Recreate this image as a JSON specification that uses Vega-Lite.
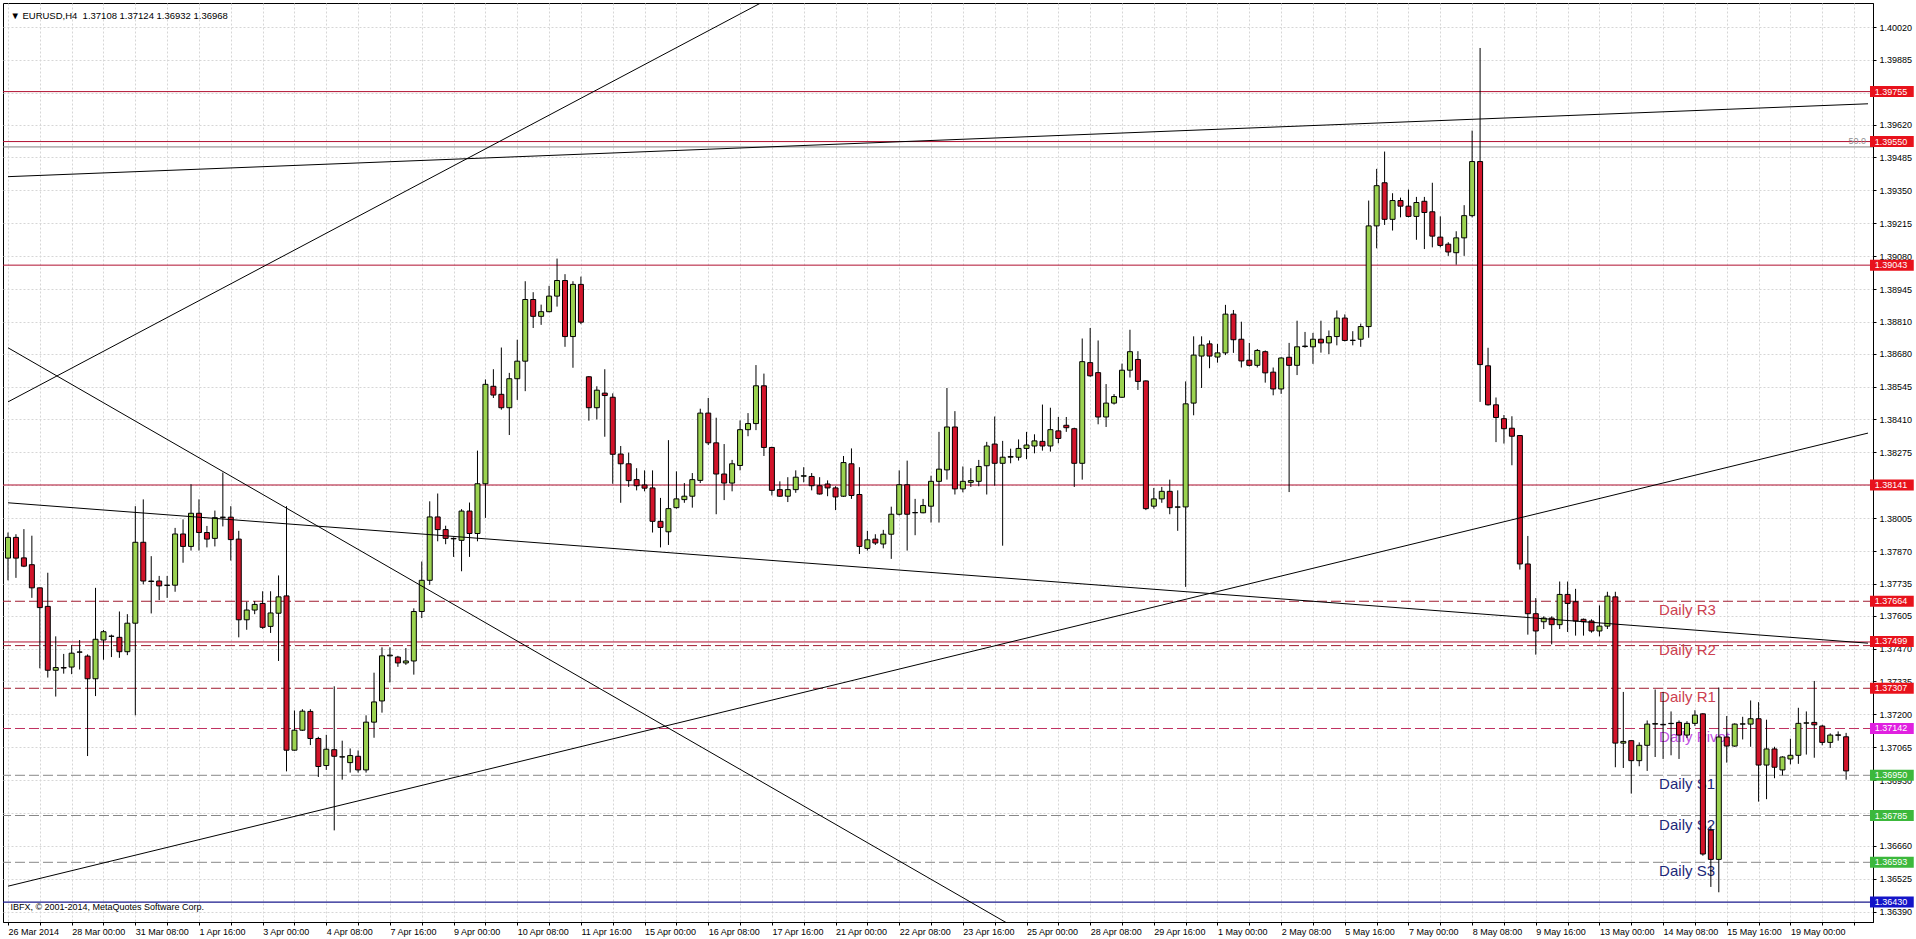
{
"$schema": "https://vega.github.io/schema/vega-lite/v6.json",
"width": 1870, "height": 919,
"autosize": {"type": "none"},
"padding": {"left": 3, "top": 3, "right": 43, "bottom": 17},
"background": "#ffffff",
"config": {
  "view": {"stroke": "#000000", "strokeWidth": 1},
  "font": "Liberation Sans",
  "axis": {"labelFont": "Liberation Sans", "labelFontSize": 9, "labelColor": "#000000", "domainColor": "#000000", "tickColor": "#000000", "gridColor": "#d6d6d6", "gridDash": [2, 2], "gridOpacity": 1, "title": null, "labelOverlap": false, "labelFlush": false, "labelBound": false, "tickCount": 100}
},
"datasets": {
"candles": [
{"i":0,"o":1.37841,"h":1.37946,"l":1.37750,"c":1.37926},
{"i":1,"o":1.37926,"h":1.37939,"l":1.37760,"c":1.37841},
{"i":2,"o":1.37842,"h":1.37960,"l":1.37804,"c":1.37808},
{"i":3,"o":1.37814,"h":1.37933,"l":1.37678,"c":1.37719},
{"i":4,"o":1.37719,"h":1.37720,"l":1.37389,"c":1.37638},
{"i":5,"o":1.37643,"h":1.37781,"l":1.37351,"c":1.37381},
{"i":6,"o":1.37381,"h":1.37520,"l":1.37273,"c":1.37392},
{"i":7,"o":1.37392,"h":1.37448,"l":1.37367,"c":1.37390},
{"i":8,"o":1.37394,"h":1.37484,"l":1.37365,"c":1.37451},
{"i":9,"o":1.37455,"h":1.37505,"l":1.37384,"c":1.37456},
{"i":10,"o":1.37439,"h":1.37446,"l":1.37029,"c":1.37346},
{"i":11,"o":1.37346,"h":1.37719,"l":1.37275,"c":1.37508},
{"i":12,"o":1.37505,"h":1.37546,"l":1.37424,"c":1.37539},
{"i":13,"o":1.37520,"h":1.37527,"l":1.37435,"c":1.37521},
{"i":14,"o":1.37516,"h":1.37622,"l":1.37432,"c":1.37457},
{"i":15,"o":1.37457,"h":1.37611,"l":1.37443,"c":1.37574},
{"i":16,"o":1.37574,"h":1.38054,"l":1.37196,"c":1.37906},
{"i":17,"o":1.37906,"h":1.38082,"l":1.37733,"c":1.37747},
{"i":18,"o":1.37747,"h":1.37849,"l":1.37614,"c":1.37745},
{"i":19,"o":1.37747,"h":1.37768,"l":1.37669,"c":1.37727},
{"i":20,"o":1.37729,"h":1.37768,"l":1.37678,"c":1.37730},
{"i":21,"o":1.37730,"h":1.37965,"l":1.37703,"c":1.37940},
{"i":22,"o":1.37940,"h":1.38000,"l":1.37822,"c":1.37889},
{"i":23,"o":1.37889,"h":1.38144,"l":1.37872,"c":1.38025},
{"i":24,"o":1.38025,"h":1.38082,"l":1.37872,"c":1.37946},
{"i":25,"o":1.37946,"h":1.37973,"l":1.37885,"c":1.37919},
{"i":26,"o":1.37922,"h":1.38036,"l":1.37889,"c":1.38007},
{"i":27,"o":1.38008,"h":1.38192,"l":1.37971,"c":1.38009},
{"i":28,"o":1.38009,"h":1.38054,"l":1.37831,"c":1.37917},
{"i":29,"o":1.37919,"h":1.37953,"l":1.37516,"c":1.37588},
{"i":30,"o":1.37588,"h":1.37662,"l":1.37547,"c":1.37628},
{"i":31,"o":1.37628,"h":1.37665,"l":1.37611,"c":1.37651},
{"i":32,"o":1.37655,"h":1.37705,"l":1.37551,"c":1.37557},
{"i":33,"o":1.37561,"h":1.37705,"l":1.37534,"c":1.37616},
{"i":34,"o":1.37615,"h":1.37770,"l":1.37419,"c":1.37682},
{"i":35,"o":1.37686,"h":1.38054,"l":1.36966,"c":1.37053},
{"i":36,"o":1.37053,"h":1.37216,"l":1.37051,"c":1.37135},
{"i":37,"o":1.37135,"h":1.37221,"l":1.37132,"c":1.37213},
{"i":38,"o":1.37212,"h":1.37221,"l":1.37074,"c":1.37101},
{"i":39,"o":1.37101,"h":1.37108,"l":1.36943,"c":1.36986},
{"i":40,"o":1.36990,"h":1.37116,"l":1.36972,"c":1.37057},
{"i":41,"o":1.37055,"h":1.37315,"l":1.36724,"c":1.37028},
{"i":42,"o":1.37025,"h":1.37092,"l":1.36932,"c":1.37026},
{"i":43,"o":1.37002,"h":1.37060,"l":1.36961,"c":1.37031},
{"i":44,"o":1.37028,"h":1.37052,"l":1.36961,"c":1.36972},
{"i":45,"o":1.36972,"h":1.37196,"l":1.36961,"c":1.37168},
{"i":46,"o":1.37168,"h":1.37371,"l":1.37104,"c":1.37251},
{"i":47,"o":1.37255,"h":1.37475,"l":1.37207,"c":1.37440},
{"i":48,"o":1.37440,"h":1.37475,"l":1.37331,"c":1.37443},
{"i":49,"o":1.37435,"h":1.37440,"l":1.37395,"c":1.37411},
{"i":50,"o":1.37411,"h":1.37472,"l":1.37403,"c":1.37419},
{"i":51,"o":1.37419,"h":1.37635,"l":1.37363,"c":1.37622},
{"i":52,"o":1.37622,"h":1.37827,"l":1.37595,"c":1.37750},
{"i":53,"o":1.37750,"h":1.38074,"l":1.37731,"c":1.38010},
{"i":54,"o":1.38010,"h":1.38106,"l":1.37910,"c":1.37958},
{"i":55,"o":1.37958,"h":1.37974,"l":1.37898,"c":1.37922},
{"i":56,"o":1.37922,"h":1.37926,"l":1.37846,"c":1.37920},
{"i":57,"o":1.37914,"h":1.38042,"l":1.37787,"c":1.38034},
{"i":58,"o":1.38034,"h":1.38069,"l":1.37846,"c":1.37942},
{"i":59,"o":1.37942,"h":1.38282,"l":1.37910,"c":1.38146},
{"i":60,"o":1.38146,"h":1.38574,"l":1.38006,"c":1.38554},
{"i":61,"o":1.38546,"h":1.38616,"l":1.38498,"c":1.38510},
{"i":62,"o":1.38513,"h":1.38705,"l":1.38450,"c":1.38458},
{"i":63,"o":1.38458,"h":1.38601,"l":1.38346,"c":1.38577},
{"i":64,"o":1.38577,"h":1.38737,"l":1.38490,"c":1.38649},
{"i":65,"o":1.38649,"h":1.38977,"l":1.38526,"c":1.38902},
{"i":66,"o":1.38902,"h":1.38932,"l":1.38785,"c":1.38833},
{"i":67,"o":1.38833,"h":1.38881,"l":1.38798,"c":1.38852},
{"i":68,"o":1.38852,"h":1.38958,"l":1.38850,"c":1.38916},
{"i":69,"o":1.38916,"h":1.39070,"l":1.38873,"c":1.38980},
{"i":70,"o":1.38980,"h":1.39006,"l":1.38708,"c":1.38750},
{"i":71,"o":1.38750,"h":1.38977,"l":1.38622,"c":1.38964},
{"i":72,"o":1.38964,"h":1.38996,"l":1.38801,"c":1.38809},
{"i":73,"o":1.38585,"h":1.38588,"l":1.38405,"c":1.38458},
{"i":74,"o":1.38458,"h":1.38546,"l":1.38410,"c":1.38530},
{"i":75,"o":1.38518,"h":1.38616,"l":1.38339,"c":1.38508},
{"i":76,"o":1.38501,"h":1.38517,"l":1.38146,"c":1.38267},
{"i":77,"o":1.38268,"h":1.38301,"l":1.38068,"c":1.38228},
{"i":78,"o":1.38228,"h":1.38274,"l":1.38133,"c":1.38159},
{"i":79,"o":1.38163,"h":1.38210,"l":1.38119,"c":1.38138},
{"i":80,"o":1.38141,"h":1.38201,"l":1.38115,"c":1.38128},
{"i":81,"o":1.38129,"h":1.38201,"l":1.37946,"c":1.37992},
{"i":82,"o":1.37992,"h":1.38088,"l":1.37885,"c":1.37967},
{"i":83,"o":1.37949,"h":1.38325,"l":1.37895,"c":1.38044},
{"i":84,"o":1.38048,"h":1.38197,"l":1.38044,"c":1.38084},
{"i":85,"o":1.38081,"h":1.38149,"l":1.38068,"c":1.38095},
{"i":86,"o":1.38095,"h":1.38190,"l":1.38048,"c":1.38163},
{"i":87,"o":1.38160,"h":1.38454,"l":1.38149,"c":1.38436},
{"i":88,"o":1.38436,"h":1.38498,"l":1.38305,"c":1.38314},
{"i":89,"o":1.38314,"h":1.38417,"l":1.38021,"c":1.38186},
{"i":90,"o":1.38186,"h":1.38309,"l":1.38079,"c":1.38149},
{"i":91,"o":1.38149,"h":1.38244,"l":1.38115,"c":1.38228},
{"i":92,"o":1.38221,"h":1.38406,"l":1.38201,"c":1.38368},
{"i":93,"o":1.38368,"h":1.38436,"l":1.38341,"c":1.38393},
{"i":94,"o":1.38393,"h":1.38633,"l":1.38366,"c":1.38548},
{"i":95,"o":1.38548,"h":1.38598,"l":1.38260,"c":1.38295},
{"i":96,"o":1.38295,"h":1.38298,"l":1.38098,"c":1.38119},
{"i":97,"o":1.38122,"h":1.38156,"l":1.38092,"c":1.38095},
{"i":98,"o":1.38095,"h":1.38173,"l":1.38071,"c":1.38122},
{"i":99,"o":1.38122,"h":1.38201,"l":1.38109,"c":1.38173},
{"i":100,"o":1.38177,"h":1.38214,"l":1.38152,"c":1.38179},
{"i":101,"o":1.38176,"h":1.38190,"l":1.38119,"c":1.38138},
{"i":102,"o":1.38138,"h":1.38173,"l":1.38102,"c":1.38104},
{"i":103,"o":1.38145,"h":1.38160,"l":1.38095,"c":1.38129},
{"i":104,"o":1.38129,"h":1.38136,"l":1.38038,"c":1.38092},
{"i":105,"o":1.38095,"h":1.38260,"l":1.38092,"c":1.38233},
{"i":106,"o":1.38228,"h":1.38291,"l":1.38084,"c":1.38098},
{"i":107,"o":1.38102,"h":1.38214,"l":1.37858,"c":1.37889},
{"i":108,"o":1.37881,"h":1.37953,"l":1.37872,"c":1.37916},
{"i":109,"o":1.37919,"h":1.37939,"l":1.37895,"c":1.37903},
{"i":110,"o":1.37899,"h":1.37957,"l":1.37881,"c":1.37939},
{"i":111,"o":1.37939,"h":1.38052,"l":1.37838,"c":1.38021},
{"i":112,"o":1.38021,"h":1.38201,"l":1.38016,"c":1.38142},
{"i":113,"o":1.38142,"h":1.38241,"l":1.37872,"c":1.38021},
{"i":114,"o":1.38027,"h":1.38084,"l":1.37935,"c":1.38028},
{"i":115,"o":1.38027,"h":1.38084,"l":1.38025,"c":1.38057},
{"i":116,"o":1.38054,"h":1.38179,"l":1.37987,"c":1.38156},
{"i":117,"o":1.38156,"h":1.38359,"l":1.37987,"c":1.38206},
{"i":118,"o":1.38203,"h":1.38539,"l":1.38163,"c":1.38379},
{"i":119,"o":1.38379,"h":1.38444,"l":1.38102,"c":1.38125},
{"i":120,"o":1.38125,"h":1.38217,"l":1.38111,"c":1.38156},
{"i":121,"o":1.38152,"h":1.38210,"l":1.38133,"c":1.38159},
{"i":122,"o":1.38156,"h":1.38244,"l":1.38136,"c":1.38217},
{"i":123,"o":1.38220,"h":1.38318,"l":1.38102,"c":1.38301},
{"i":124,"o":1.38309,"h":1.38422,"l":1.38138,"c":1.38230},
{"i":125,"o":1.38230,"h":1.38322,"l":1.37892,"c":1.38255},
{"i":126,"o":1.38255,"h":1.38290,"l":1.38230,"c":1.38258},
{"i":127,"o":1.38255,"h":1.38328,"l":1.38241,"c":1.38291},
{"i":128,"o":1.38291,"h":1.38359,"l":1.38247,"c":1.38305},
{"i":129,"o":1.38301,"h":1.38349,"l":1.38271,"c":1.38322},
{"i":130,"o":1.38320,"h":1.38471,"l":1.38282,"c":1.38301},
{"i":131,"o":1.38301,"h":1.38458,"l":1.38278,"c":1.38368},
{"i":132,"o":1.38363,"h":1.38420,"l":1.38312,"c":1.38332},
{"i":133,"o":1.38386,"h":1.38420,"l":1.38359,"c":1.38376},
{"i":134,"o":1.38372,"h":1.38376,"l":1.38133,"c":1.38230},
{"i":135,"o":1.38230,"h":1.38742,"l":1.38163,"c":1.38647},
{"i":136,"o":1.38643,"h":1.38785,"l":1.38585,"c":1.38589},
{"i":137,"o":1.38602,"h":1.38734,"l":1.38390,"c":1.38420},
{"i":138,"o":1.38420,"h":1.38555,"l":1.38379,"c":1.38477},
{"i":139,"o":1.38477,"h":1.38514,"l":1.38471,"c":1.38504},
{"i":140,"o":1.38501,"h":1.38639,"l":1.38498,"c":1.38612},
{"i":141,"o":1.38612,"h":1.38778,"l":1.38582,"c":1.38688},
{"i":142,"o":1.38656,"h":1.38690,"l":1.38531,"c":1.38566},
{"i":143,"o":1.38568,"h":1.38570,"l":1.38038,"c":1.38044},
{"i":144,"o":1.38054,"h":1.38129,"l":1.38044,"c":1.38084},
{"i":145,"o":1.38084,"h":1.38133,"l":1.38068,"c":1.38115},
{"i":146,"o":1.38115,"h":1.38163,"l":1.38021,"c":1.38048},
{"i":147,"o":1.38050,"h":1.38119,"l":1.37953,"c":1.38051},
{"i":148,"o":1.38051,"h":1.38566,"l":1.37723,"c":1.38474},
{"i":149,"o":1.38477,"h":1.38751,"l":1.38427,"c":1.38674},
{"i":150,"o":1.38670,"h":1.38751,"l":1.38539,"c":1.38715},
{"i":151,"o":1.38720,"h":1.38734,"l":1.38620,"c":1.38670},
{"i":152,"o":1.38666,"h":1.38720,"l":1.38643,"c":1.38683},
{"i":153,"o":1.38683,"h":1.38880,"l":1.38674,"c":1.38842},
{"i":154,"o":1.38842,"h":1.38859,"l":1.38683,"c":1.38737},
{"i":155,"o":1.38739,"h":1.38811,"l":1.38623,"c":1.38650},
{"i":156,"o":1.38653,"h":1.38724,"l":1.38627,"c":1.38632},
{"i":157,"o":1.38632,"h":1.38699,"l":1.38623,"c":1.38693},
{"i":158,"o":1.38688,"h":1.38693,"l":1.38561,"c":1.38601},
{"i":159,"o":1.38604,"h":1.38623,"l":1.38509,"c":1.38535},
{"i":160,"o":1.38535,"h":1.38665,"l":1.38515,"c":1.38662},
{"i":161,"o":1.38665,"h":1.38724,"l":1.38112,"c":1.38632},
{"i":162,"o":1.38632,"h":1.38815,"l":1.38592,"c":1.38708},
{"i":163,"o":1.38709,"h":1.38769,"l":1.38704,"c":1.38711},
{"i":164,"o":1.38708,"h":1.38765,"l":1.38638,"c":1.38739},
{"i":165,"o":1.38739,"h":1.38815,"l":1.38684,"c":1.38724},
{"i":166,"o":1.38724,"h":1.38775,"l":1.38678,"c":1.38750},
{"i":167,"o":1.38750,"h":1.38857,"l":1.38714,"c":1.38826},
{"i":168,"o":1.38826,"h":1.38841,"l":1.38730,"c":1.38734},
{"i":169,"o":1.38734,"h":1.38772,"l":1.38714,"c":1.38735},
{"i":170,"o":1.38739,"h":1.38803,"l":1.38708,"c":1.38791},
{"i":171,"o":1.38791,"h":1.39308,"l":1.38745,"c":1.39204},
{"i":172,"o":1.39204,"h":1.39438,"l":1.39112,"c":1.39369},
{"i":173,"o":1.39381,"h":1.39509,"l":1.39208,"c":1.39231},
{"i":174,"o":1.39231,"h":1.39338,"l":1.39185,"c":1.39308},
{"i":175,"o":1.39308,"h":1.39320,"l":1.39239,"c":1.39285},
{"i":176,"o":1.39285,"h":1.39353,"l":1.39239,"c":1.39243},
{"i":177,"o":1.39243,"h":1.39323,"l":1.39147,"c":1.39300},
{"i":178,"o":1.39305,"h":1.39323,"l":1.39109,"c":1.39259},
{"i":179,"o":1.39262,"h":1.39381,"l":1.39116,"c":1.39162},
{"i":180,"o":1.39158,"h":1.39243,"l":1.39116,"c":1.39124},
{"i":181,"o":1.39129,"h":1.39137,"l":1.39081,"c":1.39097},
{"i":182,"o":1.39094,"h":1.39182,"l":1.39045,"c":1.39155},
{"i":183,"o":1.39155,"h":1.39289,"l":1.39081,"c":1.39246},
{"i":184,"o":1.39246,"h":1.39595,"l":1.39239,"c":1.39468},
{"i":185,"o":1.39468,"h":1.39934,"l":1.38482,"c":1.38635},
{"i":186,"o":1.38630,"h":1.38704,"l":1.38467,"c":1.38470},
{"i":187,"o":1.38470,"h":1.38500,"l":1.38317,"c":1.38418},
{"i":188,"o":1.38413,"h":1.38428,"l":1.38311,"c":1.38372},
{"i":189,"o":1.38374,"h":1.38423,"l":1.38222,"c":1.38341},
{"i":190,"o":1.38344,"h":1.38345,"l":1.37794,"c":1.37817},
{"i":191,"o":1.37817,"h":1.37932,"l":1.37527,"c":1.37613},
{"i":192,"o":1.37613,"h":1.37677,"l":1.37445,"c":1.37542},
{"i":193,"o":1.37580,"h":1.37602,"l":1.37550,"c":1.37595},
{"i":194,"o":1.37595,"h":1.37602,"l":1.37487,"c":1.37568},
{"i":195,"o":1.37568,"h":1.37745,"l":1.37550,"c":1.37692},
{"i":196,"o":1.37692,"h":1.37745,"l":1.37538,"c":1.37655},
{"i":197,"o":1.37662,"h":1.37715,"l":1.37523,"c":1.37583},
{"i":198,"o":1.37590,"h":1.37593,"l":1.37523,"c":1.37580},
{"i":199,"o":1.37583,"h":1.37590,"l":1.37535,"c":1.37542},
{"i":200,"o":1.37542,"h":1.37647,"l":1.37520,"c":1.37562},
{"i":201,"o":1.37562,"h":1.37703,"l":1.37550,"c":1.37685},
{"i":202,"o":1.37682,"h":1.37703,"l":1.36983,"c":1.37082},
{"i":203,"o":1.37082,"h":1.37292,"l":1.36980,"c":1.37089},
{"i":204,"o":1.37092,"h":1.37093,"l":1.36875,"c":1.37010},
{"i":205,"o":1.37010,"h":1.37085,"l":1.36987,"c":1.37073},
{"i":206,"o":1.37073,"h":1.37175,"l":1.36968,"c":1.37160},
{"i":207,"o":1.37160,"h":1.37302,"l":1.37025,"c":1.37162},
{"i":208,"o":1.37159,"h":1.37292,"l":1.37017,"c":1.37157},
{"i":209,"o":1.37162,"h":1.37212,"l":1.37032,"c":1.37163},
{"i":210,"o":1.37167,"h":1.37175,"l":1.37017,"c":1.37115},
{"i":211,"o":1.37115,"h":1.37172,"l":1.37103,"c":1.37163},
{"i":212,"o":1.37163,"h":1.37217,"l":1.37152,"c":1.37197},
{"i":213,"o":1.37202,"h":1.37205,"l":1.36620,"c":1.36627},
{"i":214,"o":1.36725,"h":1.36740,"l":1.36492,"c":1.36605},
{"i":215,"o":1.36605,"h":1.37310,"l":1.36470,"c":1.37107},
{"i":216,"o":1.37107,"h":1.37193,"l":1.37002,"c":1.37070},
{"i":217,"o":1.37070,"h":1.37163,"l":1.37067,"c":1.37160},
{"i":218,"o":1.37160,"h":1.37190,"l":1.37097,"c":1.37161},
{"i":219,"o":1.37160,"h":1.37257,"l":1.37067,"c":1.37182},
{"i":220,"o":1.37182,"h":1.37250,"l":1.36842,"c":1.36992},
{"i":221,"o":1.36992,"h":1.37178,"l":1.36852,"c":1.37058},
{"i":222,"o":1.37058,"h":1.37067,"l":1.36938,"c":1.36983},
{"i":223,"o":1.36972,"h":1.37028,"l":1.36950,"c":1.37025},
{"i":224,"o":1.37017,"h":1.37100,"l":1.36995,"c":1.37032},
{"i":225,"o":1.37032,"h":1.37227,"l":1.36997,"c":1.37163},
{"i":226,"o":1.37164,"h":1.37212,"l":1.37035,"c":1.37165},
{"i":227,"o":1.37167,"h":1.37337,"l":1.37022,"c":1.37157},
{"i":228,"o":1.37152,"h":1.37157,"l":1.37073,"c":1.37085},
{"i":229,"o":1.37085,"h":1.37122,"l":1.37062,"c":1.37115},
{"i":230,"o":1.37114,"h":1.37130,"l":1.37092,"c":1.37116},
{"i":231,"o":1.37108,"h":1.37124,"l":1.36932,"c":1.36968}
],
"solid": [{"p":1.39755},{"p":1.39550},{"p":1.39043},{"p":1.38141},{"p":1.37497}],
"rlevels": [{"p":1.37664},{"p":1.37482},{"p":1.37307}],
"slevels": [{"p":1.36950},{"p":1.36785},{"p":1.36593}],
"labels": [
{"p":1.37664,"label":"Daily R3","kind":"R"},
{"p":1.37499,"label":"Daily R2","kind":"R"},
{"p":1.37307,"label":"Daily R1","kind":"R"},
{"p":1.37142,"label":"Daily Pivot","kind":"P"},
{"p":1.36950,"label":"Daily S1","kind":"S"},
{"p":1.36785,"label":"Daily S2","kind":"S"},
{"p":1.36593,"label":"Daily S3","kind":"S"}
],
"tags": [
{"p":1.39755,"label":"1.39755","kind":"red"},
{"p":1.39550,"label":"1.39550","kind":"red"},
{"p":1.39043,"label":"1.39043","kind":"red"},
{"p":1.38141,"label":"1.38141","kind":"red"},
{"p":1.37664,"label":"1.37664","kind":"red"},
{"p":1.37499,"label":"1.37499","kind":"red"},
{"p":1.37307,"label":"1.37307","kind":"red"},
{"p":1.37142,"label":"1.37142","kind":"pivot"},
{"p":1.36950,"label":"1.36950","kind":"green"},
{"p":1.36785,"label":"1.36785","kind":"green"},
{"p":1.36593,"label":"1.36593","kind":"green"},
{"p":1.36430,"label":"1.36430","kind":"blue"}
],
"trend": [
{"g":"A","i":0,"p":1.38482},{"g":"A","i":120,"p":1.40558},
{"g":"B","i":0,"p":1.38704},{"g":"B","i":130,"p":1.36260},
{"g":"C","i":0,"p":1.38068},{"g":"C","i":233.75,"p":1.37492},
{"g":"D","i":0,"p":1.36495},{"g":"D","i":233.75,"p":1.38354},
{"g":"E","i":0,"p":1.39406},{"g":"E","i":233.75,"p":1.39705}
]
},
"layer": [
{
  "data": {"name": "candles"},
  "mark": {"type": "rule", "color": "#000000", "strokeWidth": 1, "opacity": 0},
  "encoding": {
    "x": {"field": "i", "type": "quantitative",
      "scale": {"domain": [0, 233.75], "nice": false, "zero": false},
      "axis": {"values": [0,4,8,12,16,20,24,28,32,36,40,44,48,52,56,60,64,68,72,76,80,84,88,92,96,100,104,108,112,116,120,124,128,132,136,140,144,148,152,156,160,164,168,172,176,180,184,188,192,196,200,204,208,212,216,220,224,228,232],
        "labelExpr": "datum.value % 8 == 0 ? ['26 Mar 2014','28 Mar 00:00','31 Mar 08:00','1 Apr 16:00','3 Apr 00:00','4 Apr 08:00','7 Apr 16:00','9 Apr 00:00','10 Apr 08:00','11 Apr 16:00','15 Apr 00:00','16 Apr 08:00','17 Apr 16:00','21 Apr 00:00','22 Apr 08:00','23 Apr 16:00','25 Apr 00:00','28 Apr 08:00','29 Apr 16:00','1 May 00:00','2 May 08:00','5 May 16:00','7 May 00:00','8 May 08:00','9 May 16:00','13 May 00:00','14 May 08:00','15 May 16:00','19 May 00:00'][datum.value / 8] : ''",
        "labelAlign": "left", "labelPadding": 2, "tickSize": 3, "tickCount": 100, "grid": true, "labelOverlap": false, "labelFlush": false, "labelBound": false, "orient": "bottom", "title": null}},
    "y": {"field": "l", "type": "quantitative",
      "scale": {"domain": [1.363686, 1.40098], "nice": false, "zero": false},
      "axis": {"orient": "right", "values": [1.40020,1.39885,1.39750,1.39620,1.39485,1.39350,1.39215,1.39080,1.38945,1.38810,1.38680,1.38545,1.38410,1.38275,1.38140,1.38005,1.37870,1.37735,1.37605,1.37470,1.37335,1.37200,1.37065,1.36930,1.36795,1.36660,1.36525,1.36390],
        "format": ".5f", "tickSize": 3, "tickCount": 100, "labelPadding": 3, "grid": true, "labelOverlap": false, "labelFlush": false, "labelBound": false, "title": null}},
    "y2": {"field": "h"}
  }
},
{
  "data": {"name": "solid"},
  "mark": {"type": "rule", "color": "#b01030", "strokeWidth": 1},
  "encoding": {"y": {"field": "p", "type": "quantitative"}}
},
{
  "data": {"values": [{"p": 1.39528}]},
  "mark": {"type": "rule", "color": "#808080", "strokeWidth": 1},
  "encoding": {"y": {"field": "p", "type": "quantitative"}}
},
{
  "data": {"values": [{"p": 1.36430}]},
  "mark": {"type": "rule", "color": "#1a1a8c", "strokeWidth": 1.2},
  "encoding": {"y": {"field": "p", "type": "quantitative"}}
},
{
  "data": {"name": "rlevels"},
  "mark": {"type": "rule", "color": "#a01c30", "strokeWidth": 1, "strokeDash": [10, 4]},
  "encoding": {"y": {"field": "p", "type": "quantitative"}}
},
{
  "data": {"values": [{"p": 1.37142}]},
  "mark": {"type": "rule", "color": "#c03060", "strokeWidth": 1, "strokeDash": [10, 4]},
  "encoding": {"y": {"field": "p", "type": "quantitative"}}
},
{
  "data": {"name": "slevels"},
  "mark": {"type": "rule", "color": "#888888", "strokeWidth": 1, "strokeDash": [10, 4]},
  "encoding": {"y": {"field": "p", "type": "quantitative"}}
},
{
  "data": {"name": "labels"},
  "mark": {"type": "text", "align": "left", "baseline": "top", "dy": 2, "fontSize": 15, "font": "Liberation Sans"},
  "encoding": {
    "x": {"datum": 207.5, "type": "quantitative"},
    "y": {"field": "p", "type": "quantitative"},
    "text": {"field": "label"},
    "color": {"field": "kind", "type": "nominal", "legend": null, "scale": {"domain": ["R", "P", "S"], "range": ["#cc4050", "#c050e0", "#1c2878"]}}
  }
},
{
  "data": {"name": "candles"},
  "mark": {"type": "rule", "color": "#000000", "strokeWidth": 1},
  "encoding": {
    "x": {"field": "i", "type": "quantitative"},
    "y": {"field": "l", "type": "quantitative"},
    "y2": {"field": "h"}
  }
},
{
  "data": {"name": "candles"},
  "mark": {"type": "bar", "orient": "vertical", "size": 5, "stroke": "#000000", "strokeWidth": 1},
  "encoding": {
    "x": {"field": "i", "type": "quantitative"},
    "y": {"field": "o", "type": "quantitative"},
    "y2": {"field": "c"},
    "fill": {"condition": {"test": "datum.c >= datum.o", "value": "#9bd250"}, "value": "#d2142a"}
  }
},
{
  "data": {"name": "trend"},
  "mark": {"type": "line", "color": "#000000", "strokeWidth": 1, "clip": true},
  "encoding": {
    "x": {"field": "i", "type": "quantitative"},
    "y": {"field": "p", "type": "quantitative"},
    "detail": {"field": "g"}
  }
},
{
  "data": {"name": "tags"},
  "mark": {"type": "bar", "orient": "horizontal", "size": 11},
  "encoding": {
    "x": {"datum": 234.0, "type": "quantitative"},
    "x2": {"datum": 239.5},
    "y": {"field": "p", "type": "quantitative"},
    "fill": {"field": "kind", "type": "nominal", "legend": null, "scale": {"domain": ["red", "pivot", "green", "blue"], "range": ["#e8121c", "#e020e0", "#3cb83c", "#1414c8"]}}
  }
},
{
  "data": {"name": "tags"},
  "mark": {"type": "text", "align": "left", "baseline": "middle", "fontSize": 9, "color": "#ffffff", "font": "Liberation Sans"},
  "encoding": {
    "x": {"datum": 234.6, "type": "quantitative"},
    "y": {"field": "p", "type": "quantitative"},
    "text": {"field": "label"}
  }
},
{
  "data": {"values": [{"t": "50.0"}]},
  "mark": {"type": "text", "align": "right", "baseline": "bottom", "dy": -1, "fontSize": 9, "color": "#909090", "font": "Liberation Sans"},
  "encoding": {
    "x": {"datum": 233.5, "type": "quantitative"},
    "y": {"datum": 1.39528, "type": "quantitative"},
    "text": {"field": "t"}
  }
},
{
  "data": {"values": [{"t": "▼ EURUSD,H4\u00a0 1.37108 1.37124 1.36932 1.36968"}]},
  "mark": {"type": "text", "align": "left", "baseline": "middle", "fontSize": 9.5, "color": "#000000", "font": "Liberation Sans"},
  "encoding": {
    "x": {"datum": 0.3, "type": "quantitative"},
    "y": {"datum": 1.40067, "type": "quantitative"},
    "text": {"field": "t"}
  }
},
{
  "data": {"values": [{"t": "IBFX, © 2001-2014, MetaQuotes Software Corp."}]},
  "mark": {"type": "text", "align": "left", "baseline": "middle", "fontSize": 9, "color": "#000000", "font": "Liberation Sans"},
  "encoding": {
    "x": {"datum": 0.3, "type": "quantitative"},
    "y": {"datum": 1.36410, "type": "quantitative"},
    "text": {"field": "t"}
  }
}
]
}
